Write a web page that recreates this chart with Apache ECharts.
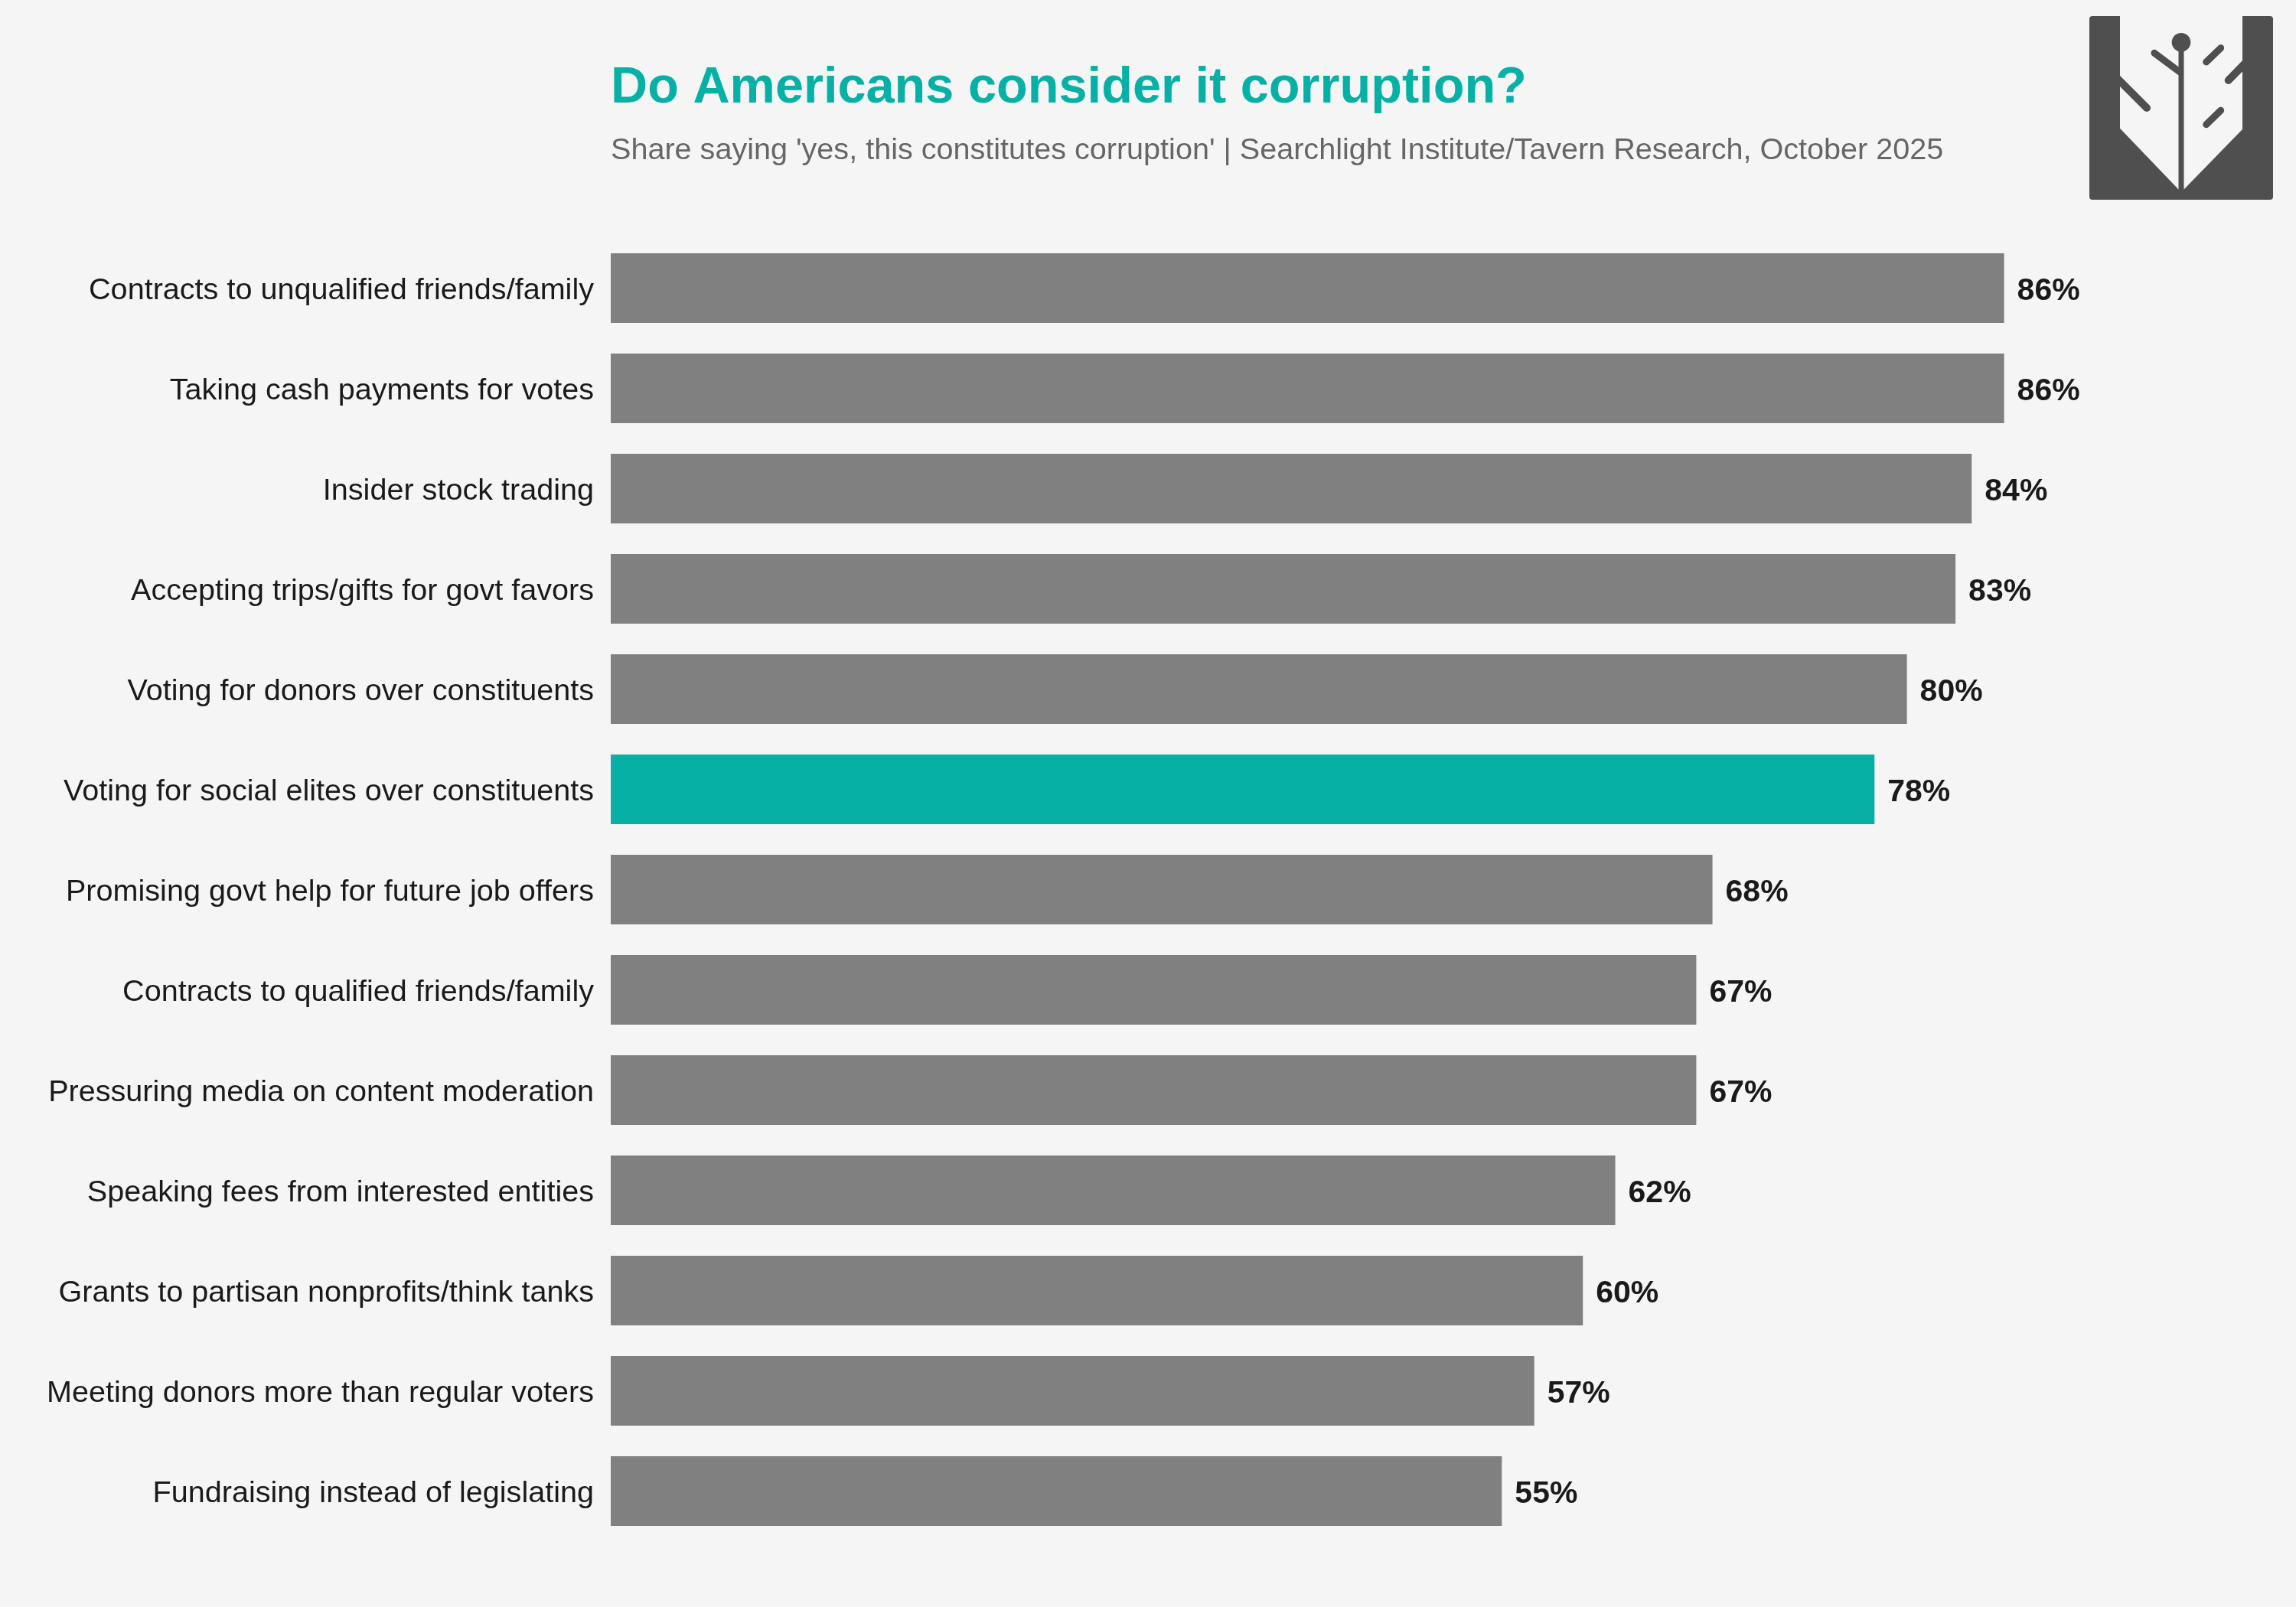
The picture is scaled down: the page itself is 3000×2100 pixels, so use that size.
<!DOCTYPE html>
<html>
<head>
<meta charset="utf-8">
<script src="https://cdn.jsdelivr.net/npm/echarts@6/dist/echarts.min.js"></script>
<style>
html,body{margin:0;padding:0;background:#f5f5f5;}
#chart{width:3000px;height:2100px;}
</style>
</head>
<body>
<div id="chart"></div>
<script>
const categories = [
  "Contracts to unqualified friends/family",
  "Taking cash payments for votes",
  "Insider stock trading",
  "Accepting trips/gifts for govt favors",
  "Voting for donors over constituents",
  "Voting for social elites over constituents",
  "Promising govt help for future job offers",
  "Contracts to qualified friends/family",
  "Pressuring media on content moderation",
  "Speaking fees from interested entities",
  "Grants to partisan nonprofits/think tanks",
  "Meeting donors more than regular voters",
  "Fundraising instead of legislating"
];
const values = [86, 86, 84, 83, 80, 78, 68, 67, 67, 62, 60, 57, 55];
const highlighted = ["Voting for social elites over constituents"];
const titleText = "Do Americans consider it corruption?";
const subtitleText = "Share saying 'yes, this constitutes corruption' | Searchlight Institute/Tavern Research, October 2025";

const GRAY = '#808080', TEAL = '#06b0a5', LOGO = '#4f4f4f', BG = '#f5f5f5';
const FONT = '"Liberation Sans", Arial, Helvetica, sans-serif';

const chart = echarts.init(document.getElementById('chart'), null, {renderer: 'canvas'});

const barData = values.map((v, i) => ({
  value: v,
  itemStyle: {color: highlighted.includes(categories[i]) ? TEAL : GRAY}
}));

const option = {
  backgroundColor: BG,
  animation: false,
  grid: {left: 798, right: 85, top: 311, bottom: 86, containLabel: false},
  xAxis: {
    type: 'value', min: 0, max: 100, show: false
  },
  yAxis: {
    type: 'category', data: categories, inverse: true,
    axisLine: {show: false}, axisTick: {show: false}, splitLine: {show: false},
    axisLabel: {color: '#1a1a1a', fontSize: 39.6, fontFamily: FONT, margin: 22, verticalAlign: 'top', lineHeight: 8}
  },
  series: [{
    type: 'bar', data: barData, barCategoryGap: '30.5%',
    label: {
      show: true, position: 'right', distance: 17, offset: [0, 4],
      formatter: p => p.value + '%',
      color: '#1a1a1a', fontSize: 41, fontWeight: 'bold', fontFamily: FONT
    }
  }],
  graphic: [
    {type: 'text', left: 798, top: 82, style: {text: titleText, fill: TEAL, font: 'bold 66.7px ' + FONT}},
    {type: 'text', left: 798, top: 177, style: {text: subtitleText, fill: '#666666', font: '39.6px ' + FONT}},
    {type: 'group', left: 2730, top: 20, children: [
      {type: 'rect', shape: {x: 0, y: 0, width: 240, height: 240, r: 4}, style: {fill: LOGO}},
      {type: 'polygon', shape: {points: [[40, -1], [200, -1], [200, 148], [123.3, 226.7], [116.7, 226.7], [40, 146.7]]}, style: {fill: BG}},
      {type: 'line', shape: {x1: 120, y1: 38, x2: 120, y2: 230}, style: {stroke: LOGO, lineWidth: 7}},
      {type: 'circle', shape: {cx: 120, cy: 34.3, r: 12.3}, style: {fill: LOGO}},
      {type: 'line', shape: {x1: 85, y1: 48.3, x2: 118, y2: 73}, style: {stroke: LOGO, lineWidth: 9, lineCap: 'round'}},
      {type: 'line', shape: {x1: 30, y1: 75, x2: 75, y2: 120}, style: {stroke: LOGO, lineWidth: 10, lineCap: 'round'}},
      {type: 'line', shape: {x1: 152.7, y1: 60, x2: 171.7, y2: 41.7}, style: {stroke: LOGO, lineWidth: 9, lineCap: 'round'}},
      {type: 'line', shape: {x1: 210, y1: 55, x2: 181.7, y2: 84}, style: {stroke: LOGO, lineWidth: 10, lineCap: 'round'}},
      {type: 'line', shape: {x1: 152.7, y1: 141.7, x2: 171.7, y2: 123.3}, style: {stroke: LOGO, lineWidth: 9, lineCap: 'round'}}
    ]}
  ]
};
chart.setOption(option);
</script>
</body>
</html>
